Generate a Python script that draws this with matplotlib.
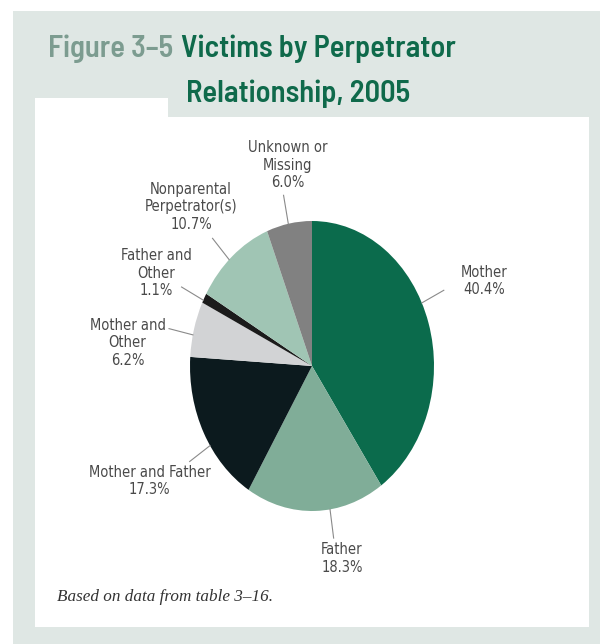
import numpy as np
import matplotlib.pyplot as plt
from matplotlib.patches import Rectangle

# data
categories = ["Mother", "Father", "Mother and Father", "Mother and\nOther",
              "Father and\nOther", "Nonparental\nPerpetrator(s)", "Unknown or\nMissing"]
shares = [40.4, 18.3, 17.3, 6.2, 1.1, 10.7, 6.0]
colors = ["#0b6b4c", "#80ad98", "#0c1a1e", "#d2d3d5", "#1b1b1b", "#a0c5b4", "#818181"]

# label layout (angle in degrees, distance in pie radii)
label_ang = [22.5, -79.5, -149.2, 174.0, 153.4, 132.1, 98.1]
label_r = [1.53, 1.35, 1.55, 1.52, 1.43, 1.48, 1.40]
lead_ang = [25.8, -81.5, -146.7, 167.6, 153.0, 132.8, 101.2]

W, H = 600, 644
fig = plt.figure(figsize=(W / 100, H / 100), dpi=100)
fig.patch.set_facecolor("white")

# background panels in pixel coordinates
bg = fig.add_axes([0, 0, 1, 1])
bg.set_xlim(0, W)
bg.set_ylim(H, 0)
bg.axis("off")
bg.add_patch(Rectangle((13, 11), W - 13, H - 11, color="#dfe7e4", lw=0))
bg.add_patch(Rectangle((35, 117), 589 - 35, 627 - 117, color="white", lw=0))
bg.add_patch(Rectangle((35, 98), 168 - 35, 20, color="white", lw=0))

title_kw = dict(fontsize=22, fontweight="semibold",
                family=["Barlow Semi Condensed", "DejaVu Sans"], va="center")
bg.text(173, 49, "Figure 3\u20135", ha="right", color="#7c9c90", **title_kw)
bg.text(181, 49, "Victims by Perpetrator", ha="left", color="#0f6a4b", **title_kw)
bg.text(186, 94, "Relationship, 2005", ha="left", color="#0f6a4b", **title_kw)
bg.text(57, 597, "Based on data from table 3\u201316.", ha="left", va="center",
        fontsize=12.3, style="italic", color="#333333",
        family=["Liberation Serif", "DejaVu Serif"])

# pie axes, stretched like the scan (rx=122 px, ry=145 px)
ax = fig.add_axes([190 / W, (H - 511) / H, 244 / W, 290 / H])
ax.pie(shares, colors=colors, startangle=90, counterclock=False, radius=1,
       wedgeprops=dict(linewidth=0))
ax.set_aspect("auto")
ax.set_xlim(-1, 1)
ax.set_ylim(-1, 1)
ax.patch.set_visible(False)
ax.axis("off")

for name, val, a, r, la in zip(categories, shares, label_ang, label_r, lead_ang):
    t = np.deg2rad(a)
    ax.text(r * np.cos(t), r * np.sin(t), f"{name}\n{val:.1f}%", ha="center",
            va="center", fontsize=10.5, color="#4a4a4a", linespacing=1.2,
            family="DejaVu Sans", fontstretch="condensed")
    lt = np.deg2rad(la)
    ax.plot([1.0 * np.cos(lt), 1.2 * np.cos(lt)], [1.0 * np.sin(lt), 1.2 * np.sin(lt)],
            color="#8a8a8a", lw=0.8, clip_on=False)

fig.savefig("out.png", dpi=100)
